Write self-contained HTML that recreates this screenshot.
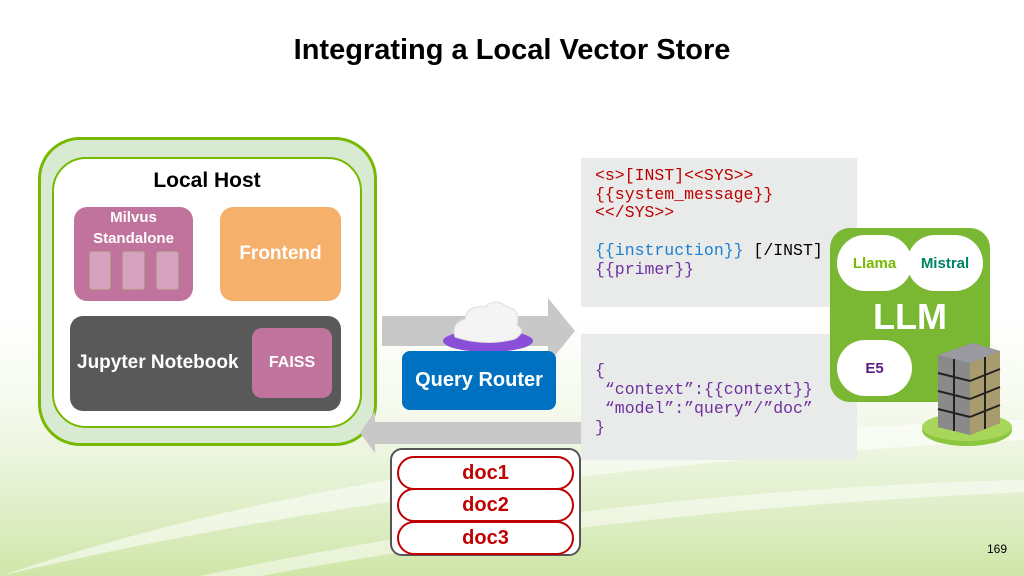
<!DOCTYPE html>
<html><head><style>
*{margin:0;padding:0;box-sizing:border-box}
body{width:1024px;height:576px;overflow:hidden;position:relative;font-family:"Liberation Sans",Arial,sans-serif;
background:linear-gradient(180deg,#fff 0%,#fff 55%,#f4f9ec 72%,#e3f0cf 86%,#cfe6a8 100%);}
.a{position:absolute}
.b{font-weight:bold;color:#fff;display:flex;align-items:center;justify-content:center;text-align:center}
.mono{font-family:"Liberation Mono","DejaVu Sans Mono",monospace;font-size:16.5px;line-height:18.7px;white-space:pre}
.pill{position:absolute;left:397px;width:177px;height:34px;border:2px solid #c00000;border-radius:17px;background:#fff;color:#c00000;font-weight:bold;font-size:20px;display:flex;align-items:center;justify-content:center}
</style></head><body>
<svg class="a" style="left:0;top:380px" width="1024" height="196">
<path d="M0 196 Q400 60 1024 40 L1024 60 Q450 90 0 196Z" fill="#fff" opacity=".55"/>
<path d="M200 196 Q600 110 1024 100 L1024 112 Q620 130 260 196Z" fill="#fff" opacity=".5"/>
</svg>
<div class="a" style="left:0;top:34px;width:1024px;text-align:center;font-weight:bold;font-size:29px;color:#000">Integrating a Local Vector Store</div>

<div class="a" style="left:38px;top:137px;width:339px;height:309px;border:3px solid #76b900;border-radius:42px;background:#d9ead3"></div>
<div class="a" style="left:52px;top:157px;width:310px;height:271px;border:2px solid #76b900;border-radius:34px;background:#fff"></div>
<div class="a" style="left:52px;top:169px;width:310px;text-align:center;font-weight:bold;font-size:21px">Local Host</div>
<div class="a" style="left:74px;top:207px;width:119px;height:94px;background:#c0749d;border-radius:13px"></div>
<div class="a b" style="left:74px;top:207px;width:119px;font-size:15px;line-height:21px">Milvus<br>Standalone</div>
<div class="a" style="left:89px;top:251px;width:22px;height:39px;background:#d4a1bf;border:1px solid #b98;border-radius:3px"></div>
<div class="a" style="left:122px;top:251px;width:23px;height:39px;background:#d4a1bf;border:1px solid #b98;border-radius:3px"></div>
<div class="a" style="left:156px;top:251px;width:23px;height:39px;background:#d4a1bf;border:1px solid #b98;border-radius:3px"></div>
<div class="a b" style="left:220px;top:207px;width:121px;height:94px;background:#f5b06c;border-radius:13px;font-size:19px">Frontend</div>
<div class="a" style="left:70px;top:316px;width:271px;height:95px;background:#595959;border-radius:13px"></div>
<div class="a b" style="left:77px;top:352px;font-size:19px">Jupyter Notebook</div>
<div class="a b" style="left:252px;top:328px;width:80px;height:70px;background:#c0749d;border-radius:10px;font-size:16px">FAISS</div>

<svg class="a" style="left:355px;top:295px" width="230" height="160">
<polygon points="27,21 193,21 193,3 220,36 193,69 193,51 27,51" fill="#c8c8c8"/>
<polygon points="227,127 20,127 20,116 5,138 20,158 20,149 227,149" fill="#c8c8c8"/>
<ellipse cx="133" cy="46" rx="45" ry="11" fill="#8a4fd8"/>
<path d="M100 42 Q96 28 110 24 Q112 10 130 12 Q140 2 152 12 Q166 14 162 30 Q172 36 160 44 Q130 52 100 42Z" fill="#f4f4f4" stroke="#ddd"/>
</svg>
<div class="a b" style="left:402px;top:351px;width:154px;height:59px;background:#0070c0;border-radius:8px;font-size:20px">Query Router</div>

<div class="a" style="left:390px;top:448px;width:191px;height:108px;border:2px solid #555;border-radius:12px;background:#fff"></div>
<div class="pill" style="top:456px">doc1</div>
<div class="pill" style="top:488px">doc2</div>
<div class="pill" style="top:521px">doc3</div>

<div class="a" style="left:581px;top:158px;width:276px;height:149px;background:#e8ebe9"></div>
<div class="a mono" style="left:595px;top:167px"><span style="color:#c00000">&lt;s&gt;[INST]&lt;&lt;SYS&gt;&gt;
{{system_message}}
&lt;&lt;/SYS&gt;&gt;</span>

<span style="color:#1e7fd0">{{instruction}}</span> [/INST]
<span style="color:#7030a0">{{primer}}</span></div>
<div class="a" style="left:581px;top:334px;width:276px;height:126px;background:#e8ebe9"></div>
<div class="a mono" style="left:595px;top:361px;color:#7030a0;line-height:19px">{
 “context”:{{context}}
 “model”:”query”/”doc”
}</div>

<div class="a" style="left:830px;top:228px;width:160px;height:174px;background:#7ab733;border-radius:20px"></div>
<div class="a b" style="left:837px;top:235px;width:75px;height:56px;background:#fff;border-radius:28px;color:#76b900;font-size:15px">Llama</div>
<div class="a b" style="left:907px;top:235px;width:76px;height:56px;background:#fff;border-radius:28px;color:#008564;font-size:15px">Mistral</div>
<div class="a b" style="left:830px;top:296px;width:160px;font-size:36px">LLM</div>
<div class="a b" style="left:837px;top:340px;width:75px;height:56px;background:#fff;border-radius:28px;color:#5a1e82;font-size:15px">E5</div>
<svg class="a" style="left:918px;top:335px" width="100" height="120">
<ellipse cx="49" cy="95" rx="45" ry="16" fill="#8cc63f"/>
<ellipse cx="49" cy="92" rx="45" ry="14" fill="#a8d65a"/>
<polygon points="20,20 55,8 82,16 82,88 52,100 20,92" fill="#7d7a6a"/>
<polygon points="20,20 52,28 52,100 20,92" fill="#8a8a8a"/>
<polygon points="52,28 82,16 82,88 52,100" fill="#a89c6e"/>
<polygon points="20,20 55,8 82,16 52,28" fill="#9a9aa0"/>
<g stroke="#222" stroke-width="2"><line x1="20" y1="38" x2="52" y2="46"/><line x1="20" y1="56" x2="52" y2="64"/><line x1="20" y1="74" x2="52" y2="82"/><line x1="52" y1="46" x2="82" y2="34"/><line x1="52" y1="64" x2="82" y2="52"/><line x1="52" y1="82" x2="82" y2="70"/><line x1="36" y1="24" x2="36" y2="96"/><line x1="67" y1="22" x2="67" y2="94"/></g>
</svg>
<div class="a" style="left:987px;top:542px;font-size:12px">169</div>
</body></html>
